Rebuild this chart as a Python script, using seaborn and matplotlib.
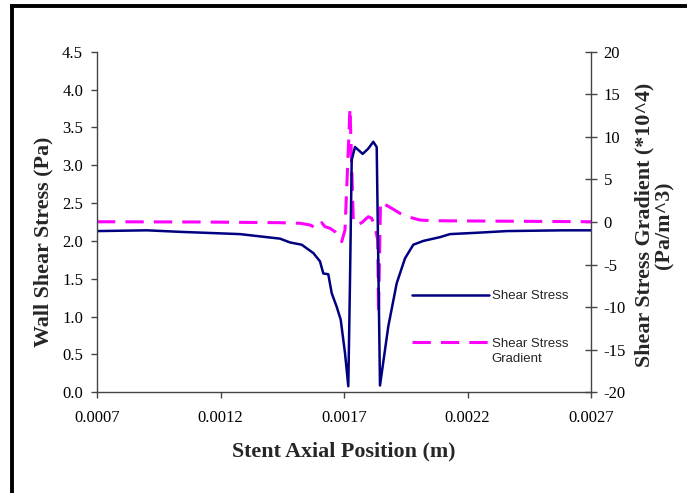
import numpy as np
import pandas as pd
import matplotlib
matplotlib.use("Agg")
import matplotlib.pyplot as plt
from matplotlib.lines import Line2D
import seaborn as sns

# ---- data ----
pos_shear = [0.0007000, 0.0009024, 0.0010360, 0.0012789, 0.0014409, 0.0014814,
             0.0015287, 0.0015757, 0.0016028, 0.0016162, 0.0016364, 0.0016502,
             0.0016704, 0.0016866, 0.0017040, 0.0017174, 0.0017243, 0.0017312,
             0.0017445, 0.0017757, 0.0017984, 0.0018186, 0.0018324, 0.0018457,
             0.0018793, 0.0019133, 0.0019470, 0.0019806, 0.0020211, 0.0020887,
             0.0021291, 0.0022506, 0.0023587, 0.0025866, 0.0027000]
shear = [2.13, 2.14, 2.12, 2.09, 2.03, 1.98,
         1.95, 1.84, 1.73, 1.57, 1.56, 1.31,
         1.13, 0.96, 0.52, 0.08, 1.48, 3.07,
         3.24, 3.15, 3.22, 3.31, 3.24, 0.09,
         0.87, 1.44, 1.77, 1.95, 2.00, 2.05,
         2.09, 2.11, 2.13, 2.14, 2.14]

pos_grad = [0.0007000, 0.0011170, 0.0014409, 0.0015219, 0.0015624, 0.0015895,
            0.0016097, 0.0016231, 0.0016433, 0.0016636, 0.0016907, 0.0017040,
            0.0017243, 0.0017376, 0.0017514, 0.0017717, 0.0017984, 0.0018122,
            0.0018255, 0.0018364, 0.0018397, 0.0018478, 0.0018931, 0.0019267,
            0.0019672, 0.0020077, 0.0020603, 0.0027000]
grad = [0.03, 0.0, -0.08, -0.15, -0.35, -0.74,
        -0.08, -0.55, -0.74, -1.14, -2.31, -0.94,
        13.35, 0.23, -0.35, -0.08, 0.62, 0.43,
        -0.55, -2.11, -10.7, 2.35, 1.61, 1.02,
        0.55, 0.23, 0.15, 0.03]

x_ticks = [0.0007, 0.0012, 0.0017, 0.0022, 0.0027]
x_tick_labels = ["0.0007", "0.0012", "0.0017", "0.0022", "0.0027"]
left_ticks = [0.0, 0.5, 1.0, 1.5, 2.0, 2.5, 3.0, 3.5, 4.0, 4.5]
right_ticks = [-20, -15, -10, -5, 0, 5, 10, 15, 20]

series_names = ["Shear Stress", "Shear Stress"]
label_extra = "Gradient"

# ---- style ----
sns.set_style("ticks")
plt.rcParams["font.family"] = ["Liberation Serif", "DejaVu Serif"]

W, H = 687, 493
fig = plt.figure(figsize=(W / 100, H / 100), dpi=100)
ax = fig.add_axes([97 / W, 1 - 392.3 / H, 494 / W, 340.6 / H])

df1 = pd.DataFrame({"x": pos_shear, "y": shear})
df2 = pd.DataFrame({"x": pos_grad, "y": grad})

sns.lineplot(data=df1, x="x", y="y", ax=ax, color="#000080", lw=1.8,
             estimator=None, sort=False)
ax2 = ax.twinx()
sns.lineplot(data=df2, x="x", y="y", ax=ax2, color="#FF00FF", lw=2.2,
             estimator=None, sort=False)
l1 = ax.lines[0]
l2 = ax2.lines[0]
l2.set_dashes([6, 3.3])

ax.set_xlim(0.0007, 0.0027)
ax.set_ylim(0, 4.5)
ax2.set_ylim(-20, 20)
ax.set_xticks(x_ticks)
ax.set_xticklabels(x_tick_labels)
ax.set_yticks(left_ticks)
ax.set_yticklabels([f"{v:.1f}" for v in left_ticks])
ax2.set_yticks(right_ticks)
ax2.set_yticklabels([str(v) for v in right_ticks])

spine_c = "#444444"
for a in (ax, ax2):
    for s in a.spines.values():
        s.set_visible(False)
        s.set_color(spine_c)
        s.set_linewidth(1.0)
ax.spines["left"].set_visible(True)
ax.spines["bottom"].set_visible(True)
ax2.spines["right"].set_visible(True)

tick_fs = 12
ax.tick_params(axis="x", direction="out", length=4, width=1.0, color=spine_c,
               labelsize=tick_fs, pad=9, labelcolor="black")
ax.tick_params(axis="y", direction="out", length=4, width=1.0, color=spine_c,
               labelsize=tick_fs, pad=6, labelcolor="black")
ax2.tick_params(axis="y", direction="inout", length=8, width=1.0, color=spine_c,
                labelsize=tick_fs, pad=5, labelcolor="black")

lab_fs = 15.8
ax.set_xlabel("Stent Axial Position (m)", fontsize=lab_fs, fontweight="bold")
ax.set_ylabel("Wall Shear Stress (Pa)", fontsize=lab_fs, fontweight="bold")
ax2.set_ylabel("Shear Stress Gradient (*10^4)\n(Pa/m^3)", fontsize=lab_fs,
               fontweight="bold", linespacing=1.0)
ax.xaxis.set_label_coords(0.5, -(441 - 392.3) / 340.6)
ax.yaxis.set_label_coords((53 - 97) / 494, (392.3 - 242) / 340.6)
ax2.yaxis.set_label_coords((654 - 97) / 494, (392.3 - 225) / 340.6)
ax2.yaxis.label.set_rotation(90)
ax2.yaxis.label.set_va("center")

ax.set_zorder(2)
ax.patch.set_visible(False)

leg = ax2.legend([l1, l2], series_names, loc="upper left",
                 bbox_to_anchor=(412 / W, 1 - 290 / H), bbox_transform=fig.transFigure,
                 frameon=False, borderpad=0, borderaxespad=0,
                 handlelength=5.8, handletextpad=0.25, labelspacing=2.7,
                 prop={"family": ["Liberation Sans", "DejaVu Sans"], "size": 9.5})

fig.canvas.draw()
t2 = leg.get_texts()[1]
bb = t2.get_window_extent()
fig.text(bb.x0 / W, (bb.y0 - 15) / H, label_extra,
         family=["Liberation Sans", "DejaVu Sans"], fontsize=9.5, va="bottom")

# outer frame (left and top edges)
fig.add_artist(Line2D([12 / W, 12 / W], [0, 1 - 5.5 / H], transform=fig.transFigure,
                      color="black", lw=2.8, solid_capstyle="butt"))
fig.add_artist(Line2D([10 / W, 1], [1 - 5.5 / H, 1 - 5.5 / H], transform=fig.transFigure,
                      color="black", lw=2.8, solid_capstyle="butt"))

fig.savefig("out.png", dpi=100)
